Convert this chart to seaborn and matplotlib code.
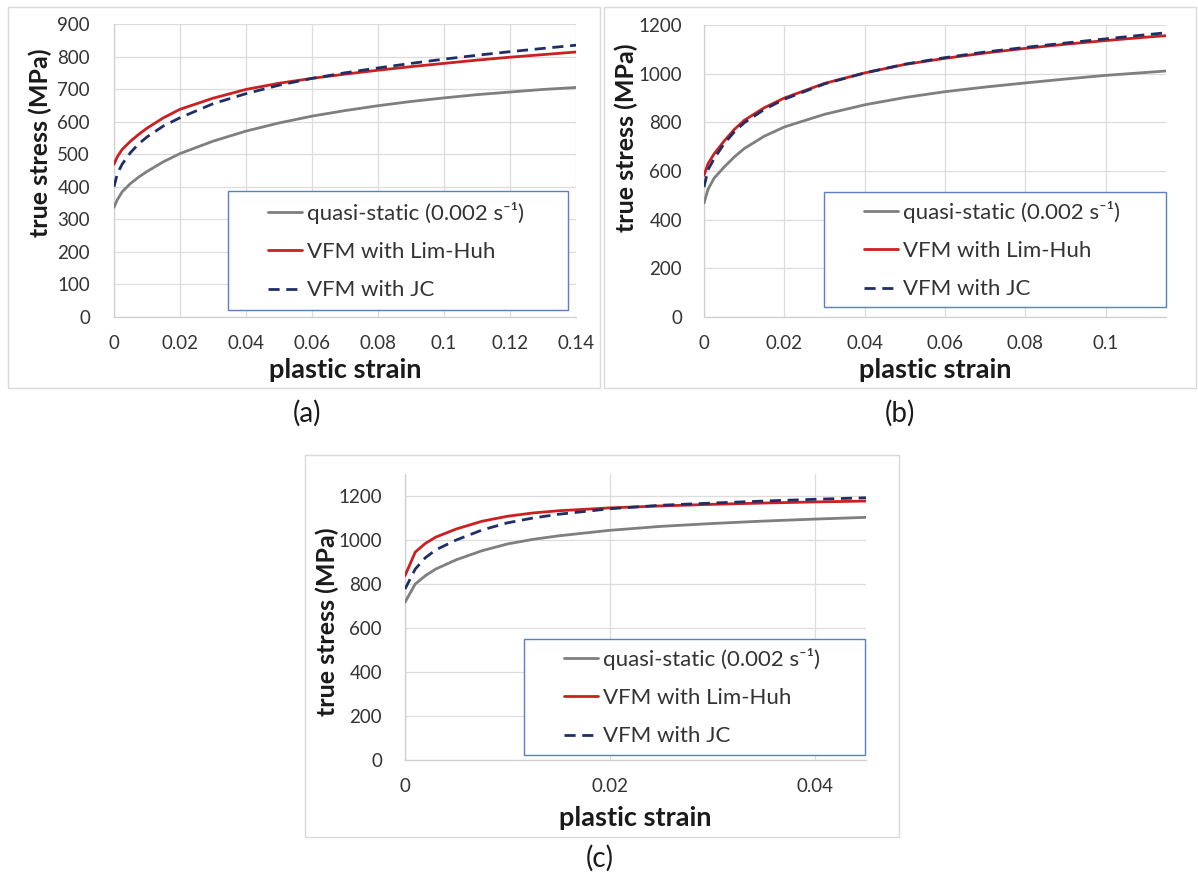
import numpy as np
import pandas as pd
import matplotlib
matplotlib.use("Agg")
import matplotlib.pyplot as plt
from matplotlib.lines import Line2D
from matplotlib.patches import Rectangle
from matplotlib.ticker import FuncFormatter, MultipleLocator
import seaborn as sns

# ---------------- data ----------------
model_names = ["quasi-static (0.002 s\u207b\u00b9)", "VFM with Lim-Huh", "VFM with JC"]

# (a)
strain_a = [0, 0.001, 0.0025, 0.005, 0.0075, 0.01, 0.015, 0.02, 0.03, 0.04, 0.05, 0.06,
            0.07, 0.08, 0.09, 0.10, 0.11, 0.12, 0.13, 0.14]
qs_a = [337, 360, 385, 410, 430, 447, 477, 502, 540, 571, 596, 617,
        634, 649, 662, 673, 683, 691, 699, 705]
lh_a = [469, 492, 515, 540, 561, 580, 612, 638, 672, 699, 718, 733,
        746, 758, 769, 779, 789, 798, 806, 814]
jc_a = [400, 440, 470, 505, 532, 553, 587, 612, 655, 686, 712, 733,
        750, 765, 779, 792, 804, 815, 825, 835]

# (b)
strain_b = [0, 0.001, 0.0025, 0.005, 0.0075, 0.01, 0.015, 0.02, 0.03, 0.04, 0.05, 0.06,
            0.07, 0.08, 0.09, 0.10, 0.11, 0.115]
qs_b = [468, 525, 570, 616, 657, 692, 743, 781, 833, 872, 902, 926,
        945, 962, 978, 993, 1005, 1011]
lh_b = [582, 630, 670, 723, 770, 808, 860, 900, 960, 1003, 1038, 1063,
        1085, 1104, 1121, 1136, 1150, 1156]
jc_b = [534, 605, 650, 712, 760, 798, 853, 895, 958, 1003, 1039, 1066,
        1089, 1108, 1126, 1143, 1160, 1168]

# (c)
strain_c = [0, 0.001, 0.002, 0.003, 0.005, 0.0075, 0.01, 0.0125, 0.015,
            0.02, 0.025, 0.03, 0.035, 0.04, 0.045]
qs_c = [717, 800, 838, 868, 910, 951, 982, 1003, 1019,
        1044, 1062, 1075, 1086, 1095, 1103]
lh_c = [838, 945, 985, 1013, 1050, 1085, 1108, 1123, 1133,
        1146, 1155, 1162, 1168, 1173, 1177]
jc_c = [777, 868, 920, 955, 1000, 1045, 1078, 1100, 1117,
        1142, 1158, 1168, 1177, 1185, 1192]

panel_tags = ["(a)", "(b)", "(c)"]

# ---------------- style ----------------
sns.set_theme(style="white")
plt.rcParams["font.family"] = ["Lato", "DejaVu Sans"]

colors = {model_names[0]: "#7f7f7f", model_names[1]: "#cc1f1f", model_names[2]: "#1f2f66"}
dash_map = {model_names[0]: "", model_names[1]: "", model_names[2]: (4, 2.4)}
LW = 2.0
GRID = "#dcdcdc"
TXT = "#333333"
TICK_FS = 13.5
LEG_FS = 16
XLAB_FS = 19.5
YLAB_FS = 18
TAG_FS = 20

W, H = 1198, 874
fig = plt.figure(figsize=(W / 100, H / 100), dpi=100)


def fx(px):
    return px / W


def fy(py):
    return 1 - py / H


def long_frame(strain, qs, lh, jc):
    parts = []
    for name, vals in zip(model_names, (qs, lh, jc)):
        parts.append(pd.DataFrame({"strain": strain, "stress": vals, "model": name}))
    return pd.concat(parts, ignore_index=True)


def fmt(v, _pos):
    return f"{v:g}"


def panel(strain, qs, lh, jc, tag, plot_box, border, leg_box, leg_anchor,
          caption_xy, ylab_xy, xlab_y, xlim, xstep, ylim, ystep, ypad):
    x0, y0, x1, y1 = plot_box
    ax = fig.add_axes([fx(x0), fy(y1), (x1 - x0) / W, (y1 - y0) / H])
    df = long_frame(strain, qs, lh, jc)
    sns.lineplot(data=df, x="strain", y="stress", hue="model", style="model",
                 hue_order=model_names, style_order=model_names,
                 palette=colors, dashes=dash_map, estimator=None, sort=False,
                 lw=LW, legend=False, ax=ax, zorder=3)
    ax.set_xlim(*xlim)
    ax.set_ylim(*ylim)
    ax.xaxis.set_major_locator(MultipleLocator(xstep))
    ax.yaxis.set_major_locator(MultipleLocator(ystep))
    ax.xaxis.set_major_formatter(FuncFormatter(fmt))
    ax.yaxis.set_major_formatter(FuncFormatter(fmt))
    ax.grid(True, color=GRID, lw=0.9)
    for s in ("top", "right"):
        ax.spines[s].set_visible(False)
    for s in ("left", "bottom"):
        ax.spines[s].set_color("#cfcfcf")
        ax.spines[s].set_linewidth(0.9)
    ax.tick_params(axis="y", length=0, labelsize=TICK_FS, labelcolor=TXT, pad=ypad * 0.72)
    ax.tick_params(axis="x", length=0, labelsize=TICK_FS, labelcolor=TXT, pad=13)

    ax.set_xlabel("plastic strain", fontsize=XLAB_FS, fontweight="bold", color="#1a1a1a")
    ax.set_ylabel("true stress (MPa)", fontsize=YLAB_FS, fontweight="bold", color="#1a1a1a")
    ax.xaxis.label.set_va("center")
    ax.yaxis.label.set_va("center")
    ax.xaxis.set_label_coords(0.5, -(xlab_y - y1) / (y1 - y0))
    ax.yaxis.set_label_coords((ylab_xy[0] - x0) / (x1 - x0), (y1 - ylab_xy[1]) / (y1 - y0))

    # chart-area border
    bx0, by0, bx1, by1 = border
    fig.add_artist(Rectangle((fx(bx0), fy(by1)), (bx1 - bx0) / W, (by1 - by0) / H,
                             transform=fig.transFigure, fill=False, ec="#d9d9d9",
                             lw=1.0, zorder=-1))
    # legend box
    lx0, ly0, lx1, ly1 = leg_box
    fig.add_artist(Rectangle((fx(lx0), fy(ly1)), (lx1 - lx0) / W, (ly1 - ly0) / H,
                             transform=fig.transFigure, fc="white", ec="#5b7fc0",
                             lw=1.0, zorder=2))
    handles = []
    for m in model_names:
        h = Line2D([], [], color=colors[m], lw=LW)
        if dash_map[m]:
            h.set_dashes(dash_map[m])
        handles.append(h)
    fig.legend(handles, model_names, loc="center left",
               bbox_to_anchor=(fx(leg_anchor[0]), fy(leg_anchor[1])),
               bbox_transform=fig.transFigure, frameon=False, fontsize=LEG_FS,
               handlelength=1.55, handletextpad=0.22, labelspacing=0.83,
               borderpad=0, borderaxespad=0, labelcolor=TXT)

    fig.text(fx(caption_xy[0]), fy(caption_xy[1]), tag, ha="center", va="center",
             fontsize=TAG_FS, color="#1a1a1a")
    return ax


panel(strain_a, qs_a, lh_a, jc_a, panel_tags[0],
      plot_box=(114, 24, 576, 317), border=(8, 7, 600, 388),
      leg_box=(228, 191, 568, 310), leg_anchor=(268, 251),
      caption_xy=(307, 413), ylab_xy=(40, 143), xlab_y=370,
      xlim=(0, 0.14), xstep=0.02, ylim=(0, 900), ystep=100, ypad=24)

panel(strain_b, qs_b, lh_b, jc_b, panel_tags[1],
      plot_box=(704, 25, 1166, 317), border=(604, 7, 1196, 388),
      leg_box=(824, 192, 1166, 307), leg_anchor=(864, 250),
      caption_xy=(900, 413), ylab_xy=(626, 138), xlab_y=370,
      xlim=(0, 0.115), xstep=0.02, ylim=(0, 1200), ystep=200, ypad=22)

panel(strain_c, qs_c, lh_c, jc_c, panel_tags[2],
      plot_box=(405, 474, 866, 760), border=(305, 455, 899, 837),
      leg_box=(524, 639, 865, 755), leg_anchor=(564, 697),
      caption_xy=(600, 858), ylab_xy=(327, 622), xlab_y=818,
      xlim=(0, 0.045), xstep=0.02, ylim=(0, 1300), ystep=200, ypad=23)

fig.savefig("out.png", dpi=100, facecolor="white")
